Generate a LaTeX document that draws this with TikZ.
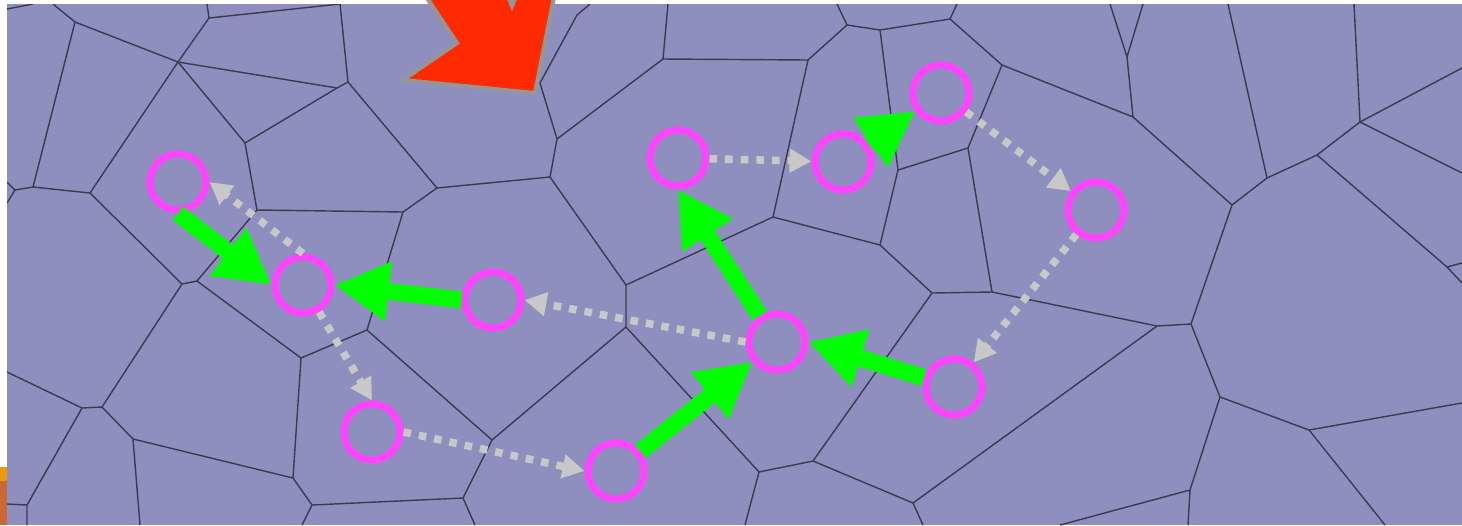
\documentclass[tikz,border=0pt]{standalone}
\usepackage{xcolor}
\usepackage{tikz}
\usetikzlibrary{arrows.meta}
\definecolor{cellcolor}{RGB}{143, 143, 191}
\definecolor{wallcolor}{RGB}{58, 58, 80}
\definecolor{spotcolor}{RGB}{255, 68, 255}
\definecolor{movecolor}{RGB}{0, 255, 0}
\definecolor{hintcolor}{RGB}{200, 200, 200}
\definecolor{markcolor}{RGB}{255, 42, 0}
\definecolor{markedge}{RGB}{150, 150, 150}
\definecolor{tabtop}{RGB}{238, 152, 16}
\definecolor{tabbot}{RGB}{204, 104, 52}

\begin{document}
\begin{tikzpicture}[
    x=0.02cm, y=-0.02cm,
    % Voronoi cell borders
    wall/.style={draw=wallcolor, line width=0.8pt, line join=round},
    % Pink site rings
    spot/.style={circle, draw=spotcolor, line width=4pt, minimum size=1.12cm, inner sep=0pt},
    % Thick green moves
    move/.style={draw=movecolor, line width=9.6pt, -{Triangle[length=31pt, width=32pt]}},
    % Grey dotted hints
    hint/.style={draw=hintcolor, line width=4.3pt, dash pattern=on 4.3pt off 4.6pt, -{Triangle[length=12.5pt, width=13pt]}}
]
    \useasboundingbox (0,0) rectangle (1462,525);

    % --- BACKGROUND ---
    \fill[white] (0,0) rectangle (1462,525);
    \fill[cellcolor] (7,4) rectangle (1462,525);
    \fill[tabtop] (0,467) rectangle (7,481);
    \fill[tabbot] (0,481) rectangle (7,525);

    % --- VORONOI CELLS ---
    \begin{scope}
    \clip (7,4) rectangle (1462,525);
    \draw[wall] (7,9) -- (33,4);
    \draw[wall] (53,4) -- (75,22) -- (33,187) -- (15,190) -- (7,182) (15,190) -- (7,203);
    \draw[wall] (75,22) -- (178,62) -- (209,18) -- (207,4) (209,18) -- (340,4);
    \draw[wall] (340,4) -- (348,82) -- (337,88) -- (245,143) -- (178,62) -- (90,193) -- (33,187);
    \draw[wall] (178,62) -- (337,88);
    \draw[wall] (245,143) -- (257,210) -- (403,212) -- (437,188) -- (348,82);
    \draw[wall] (257,210) -- (197,281) -- (182,284) -- (90,193);
    \draw[wall] (182,284) -- (102,407) -- (82,408) -- (7,372);
    \draw[wall] (82,408) -- (27,505) -- (7,504) (27,505) -- (27,525);
    \draw[wall] (102,407) -- (133,439) -- (140,525);
    \draw[wall] (133,439) -- (293,478) -- (301,358) -- (197,281);
    \draw[wall] (301,358) -- (367,330) -- (403,212);
    \draw[wall] (367,330) -- (492,440) -- (463,498) -- (312,505) -- (293,478);
    \draw[wall] (312,505) -- (302,525) (463,498) -- (475,525);
    \draw[wall] (492,440) -- (626,327) -- (626,285) -- (550,177) -- (437,188);
    \draw[wall] (550,177) -- (557,139) -- (540,83) -- (577,15) -- (590,4);
    \draw[wall] (557,139) -- (663,59) -- (668,4);
    \draw[wall] (663,59) -- (808,60) -- (847,25) -- (837,4);
    \draw[wall] (847,25) -- (880,30) -- (950,19) -- (957,4);
    \draw[wall] (950,19) -- (1002,65) -- (968,148) -- (898,170) -- (880,30);
    \draw[wall] (898,170) -- (880,245) -- (773,217) -- (808,60);
    \draw[wall] (773,217) -- (626,285);
    \draw[wall] (626,327) -- (759,472) -- (813,461) -- (932,293) -- (880,245);
    \draw[wall] (759,472) -- (745,525);
    \draw[wall] (932,293) -- (992,292) -- (968,148);
    \draw[wall] (992,292) -- (1157,326) -- (1191,324) -- (1232,205) -- (1133,117) -- (1002,65);
    \draw[wall] (813,461) -- (913,503) -- (923,525) (913,503) -- (1157,326);
    \draw[wall] (1133,117) -- (1127,57) -- (1110,4) (1127,57) -- (1143,4);
    \draw[wall] (1232,205) -- (1267,178) -- (1228,4);
    \draw[wall] (1267,178) -- (1317,155) -- (1360,122) -- (1354,4);
    \draw[wall] (1360,122) -- (1462,68) (1360,122) -- (1462,173);
    \draw[wall] (1317,155) -- (1447,267) -- (1462,263) (1447,267) -- (1462,283);
    \draw[wall] (1191,324) -- (1220,397) -- (1309,430) -- (1462,403);
    \draw[wall] (1309,430) -- (1385,525);
    \draw[wall] (1220,397) -- (1190,490) -- (1188,525) (1190,490) -- (1060,525);
    \end{scope}

    % --- RED MARKER ---
    \filldraw[fill=markcolor, draw=markedge, line width=2.3pt, line join=miter]
        (423,-8) -- (457,43) -- (403,80) -- (535,93) -- (555,-8) -- (518,-8) -- (512,6) -- (506,-8) -- cycle;

    % --- SITES ---
    \foreach \n/\x/\y in {c1/178/182, c2/303/285, c3/493/300, c4/372/432, c5/616/471, c6/777/342,
                          c7/678/158, c8/843/162, c9/941/93, c10/1096/210, c11/954/387} {
        \node[spot] (\n) at (\x,\y) {};
    }

    % --- MOVES ---
    \draw[move] (c1.south) -- (c2.west);
    \draw[move] (c3.west) -- (c2.east);
    \draw[move] (c6) -- (c7.south);
    \draw[move] (c5) -- (c6);
    \draw[move] (c11) -- (c6.east);
    \draw[move] (c8) -- (c9);

    % --- HINTS ---
    \draw[hint] (c2.north) -- (c1.east);
    \draw[hint] (c6.west) -- (c3.east);
    \draw[hint] (c2) -- (c4.north);
    \draw[hint] (c4.east) -- (c5.west);
    \foreach \a/\b in {c7/c8, c9/c10, c10/c11} {
        \draw[hint] (\a) -- (\b);
    }

\end{tikzpicture}
\end{document}
